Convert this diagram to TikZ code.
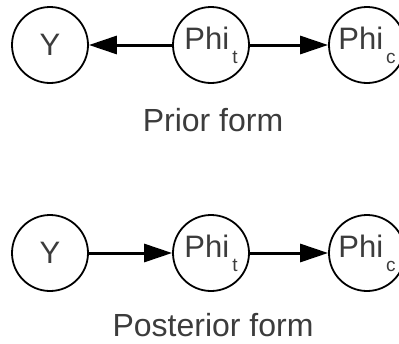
\documentclass[tikz,border=0pt]{standalone}
\usepackage{fontspec}
\setmainfont{Liberation Sans}
\usetikzlibrary{arrows.meta}
\definecolor{txtgray}{HTML}{3C3C3C}
\newcommand{\subtxt}[1]{\hspace{3pt}\raisebox{-14pt}{\fontsize{19}{19}\selectfont #1}}
\begin{document}
\begin{tikzpicture}[x=1pt,y=-1pt,
  var/.style={circle,draw=black,line width=1.8pt,minimum size=76pt,inner sep=0pt,
    text=txtgray,font=\fontsize{31}{36}\selectfont},
  captxt/.style={text=txtgray,font=\fontsize{32}{38}\selectfont,anchor=base,inner sep=0pt},
  conn/.style={line width=3pt,-{Triangle[length=28pt,width=18pt]}}]
\useasboundingbox (0,0) rectangle (399,343);
% Prior form
\node[var] (y1) at (50,45) {Y};
\node[var] (t1) at (211,45) {Phi\subtxt{t}};
\node[var] (c1) at (367,45) {Phi\subtxt{c}};
\draw[conn] (t1) -- (y1);
\draw[conn] (t1) -- (c1);
\node[captxt] (l1) at (213,131) {Prior form};
% Posterior form
\node[var] (y2) at (50,253) {Y};
\node[var] (t2) at (211,253) {Phi\subtxt{t}};
\node[var] (c2) at (367,253) {Phi\subtxt{c}};
\draw[conn] (y2) -- (t2);
\draw[conn] (t2) -- (c2);
\node[captxt] (l2) at (213,336) {Posterior form};
\end{tikzpicture}
\end{document}
